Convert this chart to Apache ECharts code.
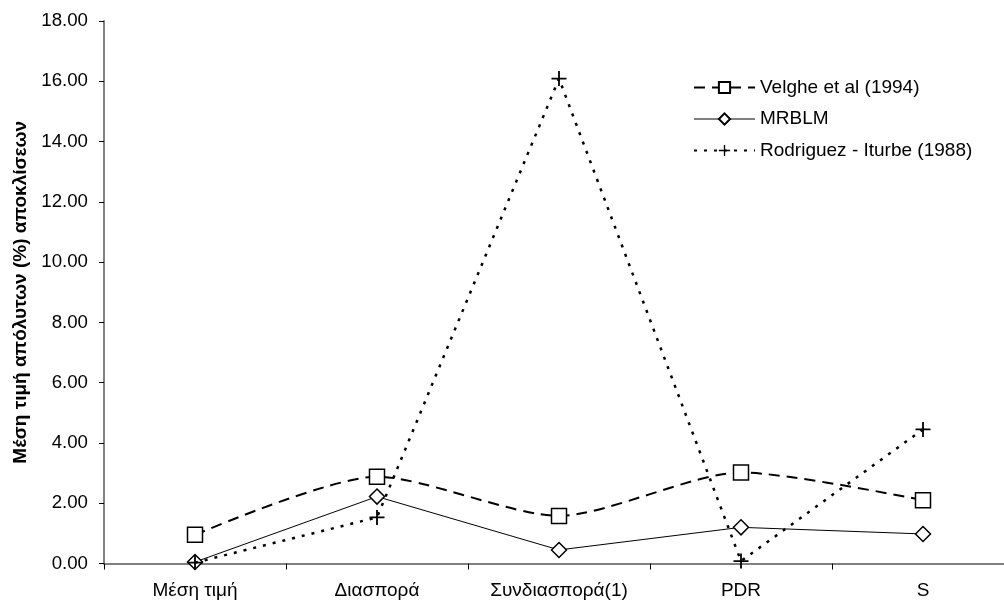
<!DOCTYPE html>
<html>
<head>
<meta charset="utf-8">
<script src="https://cdn.jsdelivr.net/npm/echarts@6/dist/echarts.min.js"></script>
<style>
  html, body { margin: 0; padding: 0; background: #fff; }
  #chart { width: 1004px; height: 602px; }
</style>
</head>
<body>
<div id="chart"></div>
<script>
// Categories along the x axis
const categories = ['Μέση τιμή', 'Διασπορά', 'Συνδιασπορά(1)', 'PDR', 'S'];

// Mean absolute deviation (%) per method
const velghe = [0.95, 2.88, 1.58, 3.02, 2.10];
const mrblm = [0.05, 2.22, 0.45, 1.20, 0.98];
const rodriguez = [0.03, 1.53, 16.09, 0.08, 4.45];

const seriesNames = ['Velghe et al (1994)', 'MRBLM', 'Rodriguez - Iturbe (1988)'];

// Y axis range
const yMin = 0, yMax = 18, yStep = 2;

const FONT = 'Liberation Sans, Arial, sans-serif';
const plusPath = 'path://M4.4,0h1.2v4.4h4.4v1.2h-4.4v4.4h-1.2v-4.4h-4.4v-1.2h4.4z';

const chart = echarts.init(document.getElementById('chart'), null, { renderer: 'canvas' });
chart.setOption({
  animation: false,
  backgroundColor: '#ffffff',
  textStyle: { fontFamily: FONT },
  grid: {
    left: 104, top: 21, width: 910, height: 542.5,
    containLabel: false, outerBoundsMode: 'none'
  },
  legend: {
    orient: 'vertical',
    left: 688,
    top: 73,
    itemWidth: 61,
    itemHeight: 14,
    itemGap: 12.5,
    textStyle: { fontFamily: FONT, fontSize: 19, color: '#000' },
    data: [
      { name: seriesNames[0] },
      { name: seriesNames[1], lineStyle: { color: '#808080', width: 2 } },
      { name: seriesNames[2] }
    ]
  },
  xAxis: {
    type: 'category',
    data: categories,
    boundaryGap: true,
    axisLine: { lineStyle: { color: '#808080', width: 2 } },
    axisTick: { show: true, length: 6, lineStyle: { color: '#000' } },
    axisLabel: { fontFamily: FONT, fontSize: 19, color: '#000', margin: 18 }
  },
  yAxis: {
    type: 'value',
    min: yMin, max: yMax, interval: yStep,
    name: 'Μέση τιμή απόλυτων (%) αποκλίσεων',
    nameLocation: 'middle',
    nameGap: 73,
    nameTextStyle: { fontFamily: FONT, fontSize: 19, fontWeight: 'bold', color: '#000' },
    axisLine: { show: true, lineStyle: { color: '#808080', width: 2 } },
    axisTick: { show: true, length: 5, lineStyle: { color: '#000' } },
    splitLine: { show: false },
    axisLabel: {
      fontFamily: FONT, fontSize: 18.7, color: '#000', margin: 16,
      formatter: v => v.toFixed(2)
    }
  },
  series: [
    {
      name: seriesNames[0],
      type: 'line',
      data: velghe,
      smooth: 0.25,
      symbol: 'rect',
      symbolSize: 15,
      lineStyle: { color: '#000', width: 2, type: [11, 7] },
      itemStyle: { color: '#fff', borderColor: '#000', borderWidth: 1.5 },
      z: 3
    },
    {
      name: seriesNames[1],
      type: 'line',
      data: mrblm,
      symbol: 'diamond',
      symbolSize: [15, 15],
      lineStyle: { color: '#000', width: 1 },
      itemStyle: { color: '#fff', borderColor: '#000', borderWidth: 1.5 },
      z: 2
    },
    {
      name: seriesNames[2],
      type: 'line',
      data: rodriguez,
      symbol: plusPath,
      symbolSize: 15,
      lineStyle: { color: '#000', width: 2.5, type: [3, 7] },
      itemStyle: { color: '#000', borderWidth: 0 },
      z: 4
    }
  ]
});
</script>
</body>
</html>
